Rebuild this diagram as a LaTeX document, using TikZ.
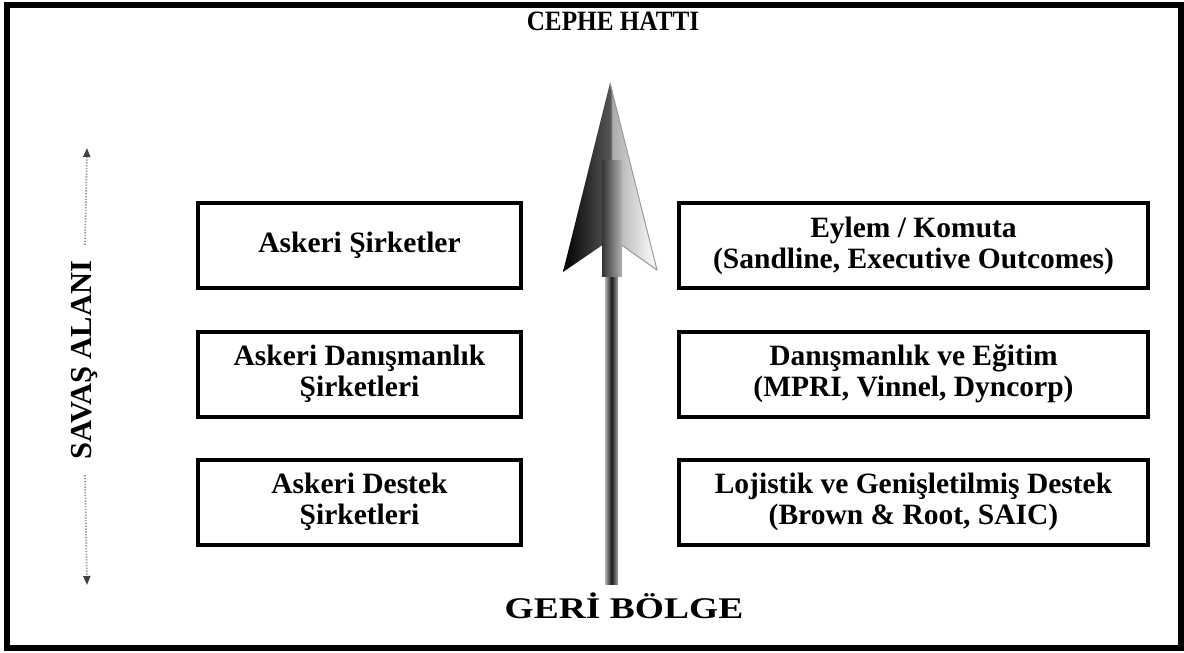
\documentclass[tikz,border=0pt]{standalone}
\usepackage{fontspec}
\setmainfont{Liberation Serif}
\newfontfamily\widefont[FakeStretch=1.25]{Liberation Serif}
\newfontfamily\narrowfont[FakeStretch=0.9]{Liberation Serif}
\usetikzlibrary{arrows.meta}
\tikzset{
  box/.style={draw, line width=4pt, minimum height=85pt, align=center, inner sep=0pt,
    font=\bfseries\fontsize{29.5}{31}\selectfont},
  lbox/.style={box, minimum width=323pt},
  rbox/.style={box, minimum width=469pt},
  dotline/.style={draw=gray!75, line width=1.8pt, dash pattern=on 1.4pt off 1.4pt,
    -{Triangle[length=9pt,width=7pt,fill=black!75,color=black!75]}},
}
\begin{document}
\begin{tikzpicture}[x=1pt,y=-1pt]
\useasboundingbox (0,0) rectangle (1184,653);
% outer frame
\draw[line width=6pt] (7,5) rectangle (1181,648);

% titles
\node[font=\narrowfont\bfseries\fontsize{28}{30}\selectfont] (cephe) at (613,21) {CEPHE HATTI};
\node[font=\widefont\bfseries\fontsize{30}{32}\selectfont] (geri) at (624,606) {GER\.I B\"OLGE};

% left-side axis
\node[rotate=90, inner ysep=0pt, inner xsep=16pt, font=\bfseries\fontsize{30.5}{32}\selectfont] (sav) at (85,360) {SAVA\c{S} ALANI};
\coordinate (savtop) at (87,148);
\coordinate (savbot) at (87,585);
\draw[dotline] (sav.east) -- (savtop);
\draw[dotline] (sav.west) -- (savbot);

% boxes
\node[lbox] (l1) at (359.5,245.5) {Askeri \c{S}irketler};
\node[lbox] (l2) at (359.5,374) {Askeri Dan\i\c{s}manl\i k\\\c{S}irketleri};
\node[lbox] (l3) at (359.5,502) {Askeri Destek\\\c{S}irketleri};
\node[rbox] (r1) at (913.5,245.5) {Eylem / Komuta\\(Sandline, Executive Outcomes)};
\node[rbox] (r2) at (913.5,374) {Dan\i\c{s}manl\i k ve E\u{g}itim\\(MPRI, Vinnel, Dyncorp)};
\node[rbox] (r3) at (913.5,502) {Lojistik ve Geni\c{s}letilmi\c{s} Destek\\(Brown \& Root, SAIC)};

% central arrow
\shade[left color=gray!60, right color=gray!70, middle color=black!90]
  (605,274) rectangle (618,584);
\shade[left color=black, right color=black!65]
  (610,83) -- (563,272) -- (604,244) -- (612,244) -- (612,90) -- cycle;
\shade[left color=gray!70, right color=white, draw=gray!80, line width=1pt]
  (610,83) -- (657,270) -- (620,244) -- (612,244) -- (612,90) -- cycle;
\shade[left color=black!80, middle color=black, right color=gray!60]
  (602,160) rectangle (622,276);
\end{tikzpicture}
\end{document}
